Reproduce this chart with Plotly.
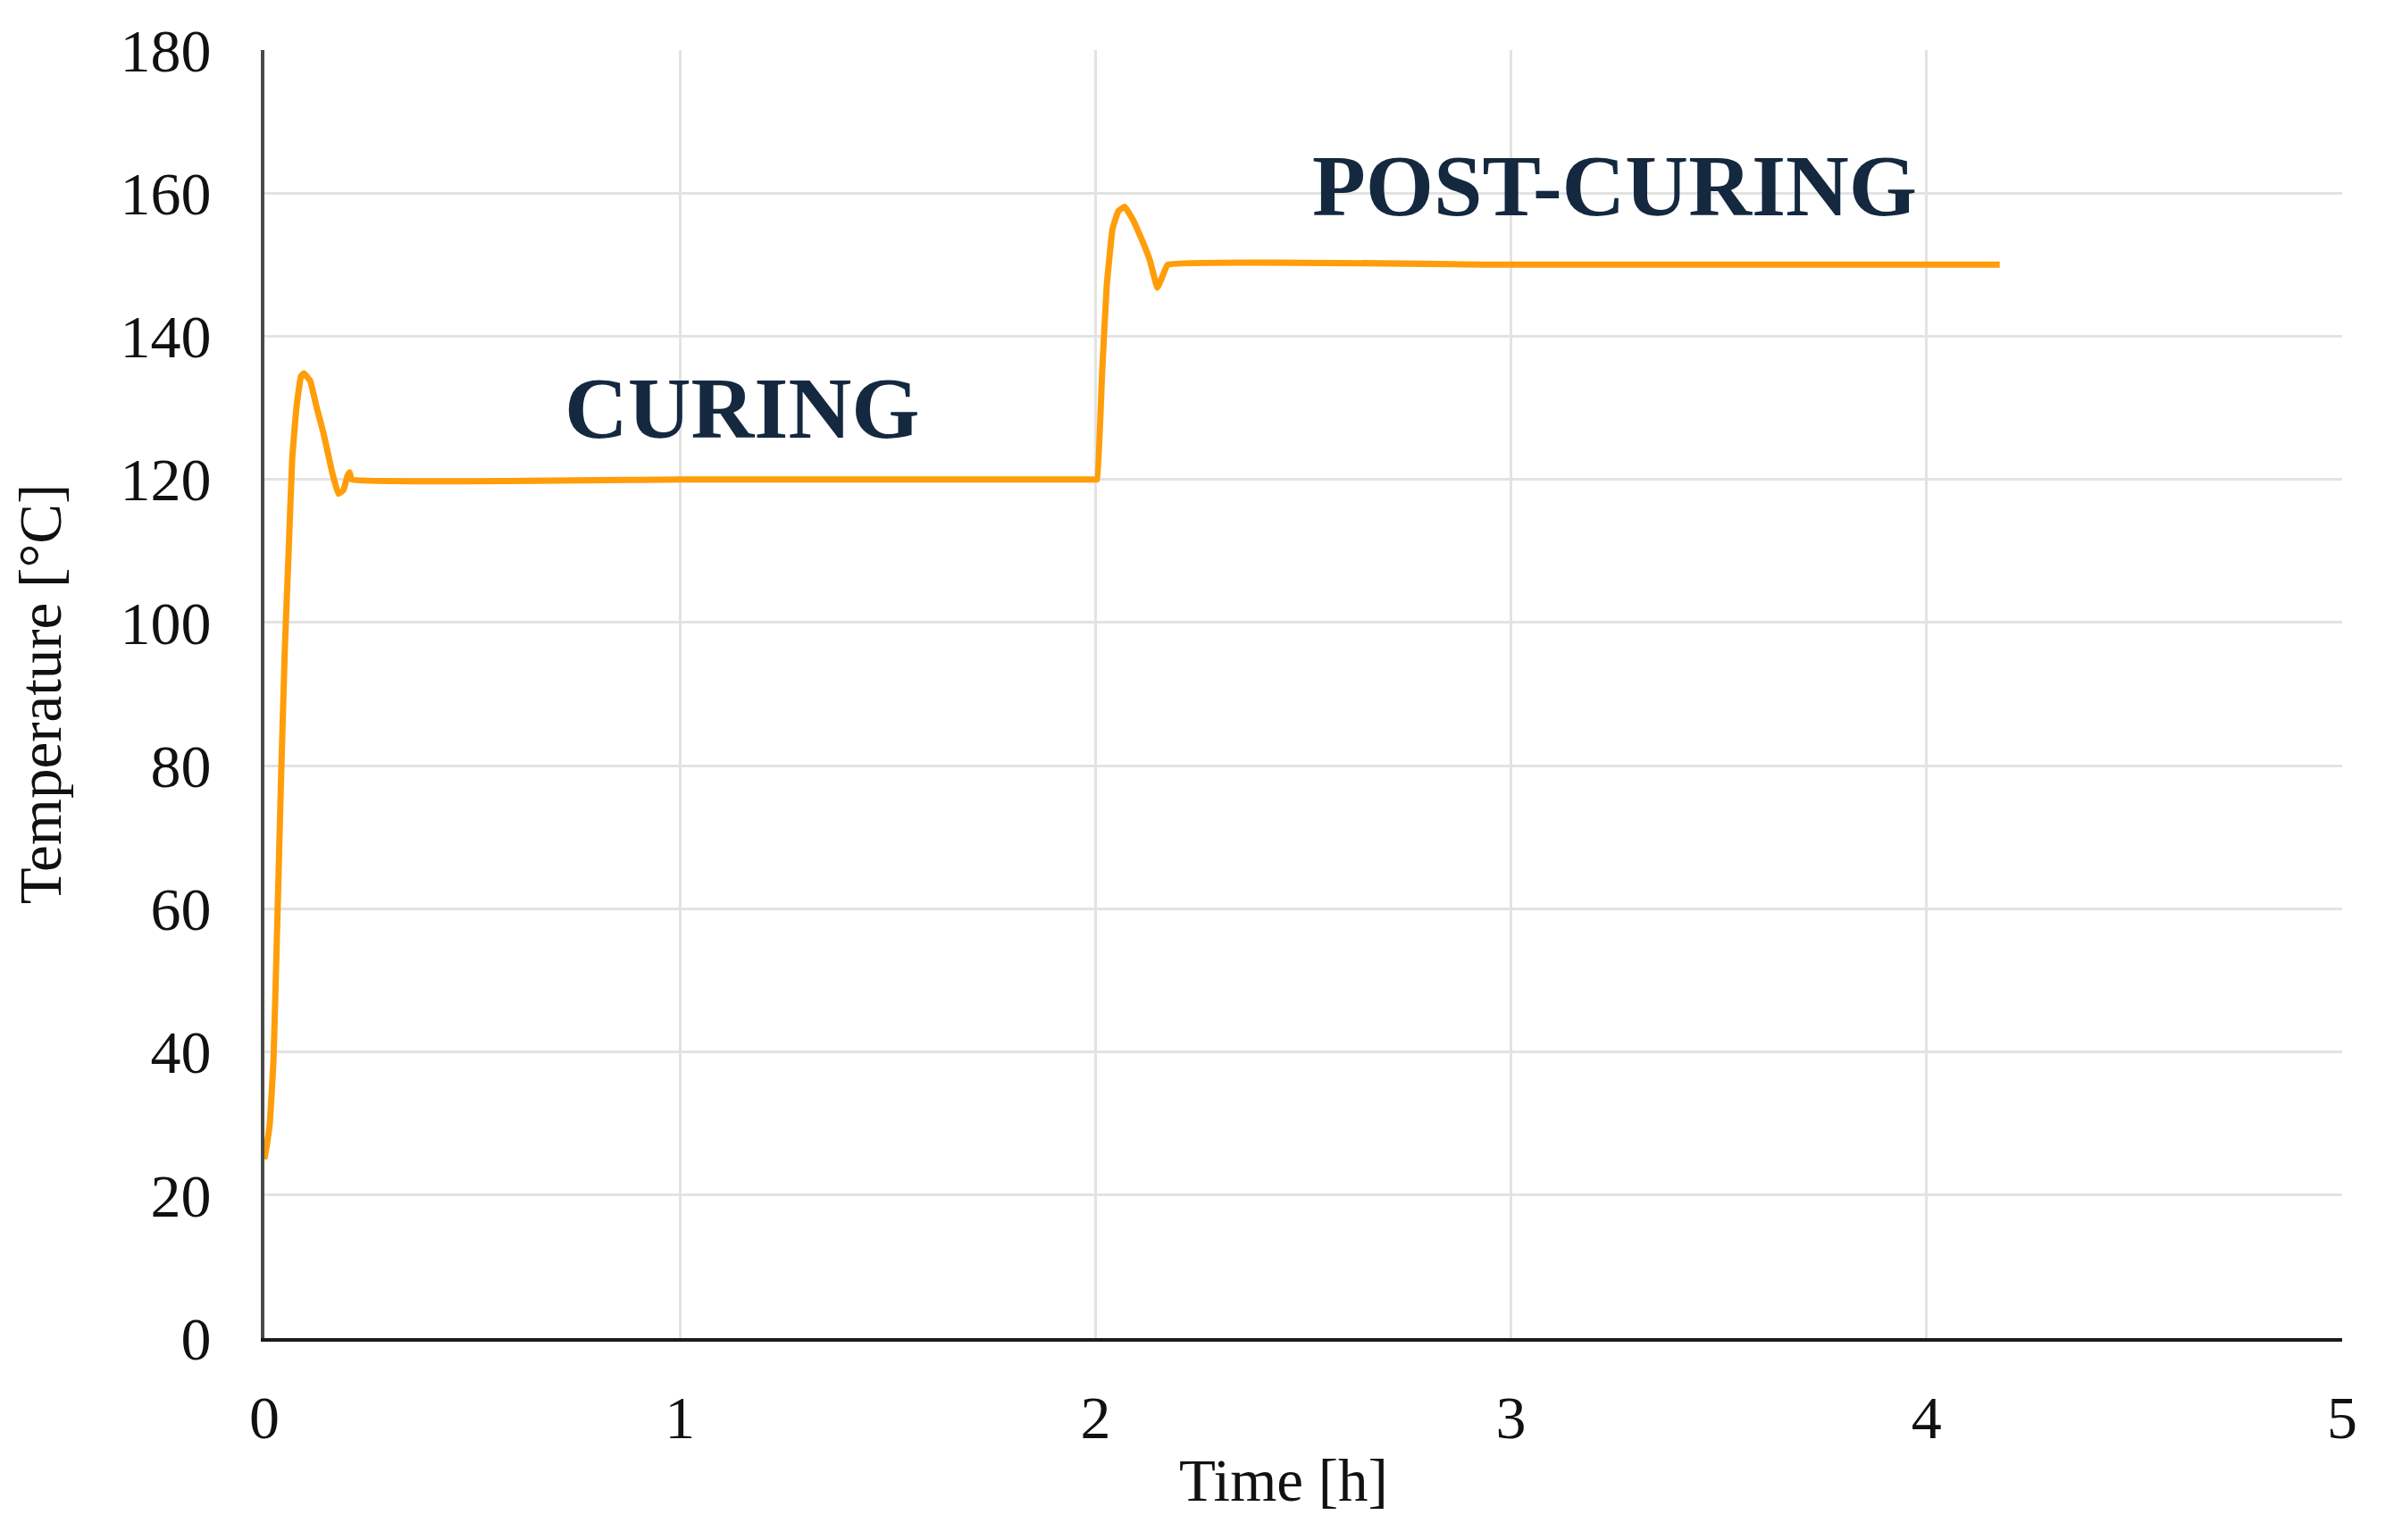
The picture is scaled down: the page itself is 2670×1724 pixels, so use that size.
import plotly.graph_objects as go

# Data
time_h = [0.0, 0.006, 0.013, 0.022, 0.031, 0.040, 0.049, 0.059, 0.067, 0.077, 0.088, 0.095,
          0.110, 0.126, 0.142, 0.163, 0.178, 0.190, 0.200, 0.205, 0.210, 1.0, 2.0,
          2.004, 2.016, 2.027, 2.041, 2.055, 2.070, 2.088, 2.110, 2.131, 2.149, 2.162, 2.174,
          3.0, 4.176]
temp_c = [25, 27, 30, 39, 58, 78, 96, 111, 123, 130, 134.4, 134.8,
          133.8, 130, 126.5, 121, 118, 118.5, 120.5, 121, 120, 120, 120,
          120, 135, 147, 155, 157.5, 158.1, 156.5, 153.7, 150.6, 146.8, 148.5, 150,
          150, 150]

x_ticks = [0, 1, 2, 3, 4, 5]
y_ticks = [0, 20, 40, 60, 80, 100, 120, 140, 160, 180]

labels = ["CURING", "POST-CURING"]
label_x = [1.15, 3.25]
label_y = [130, 161]

FONT = "Liberation Serif, Times New Roman, serif"

fig = go.Figure()
fig.add_trace(go.Scatter(
    x=time_h, y=temp_c, mode="lines",
    line=dict(color="#FF9D0A", width=7, shape="spline", smoothing=0.3),
    showlegend=False,
))

for t, xx, yy in zip(labels, label_x, label_y):
    fig.add_annotation(
        x=xx, y=yy, xref="x", yref="y", text="<b>" + t + "</b>", showarrow=False,
        font=dict(family=FONT, size=98, color="#14283F"),
    )

# x-axis title (slightly left of centre, as in the reference)
fig.add_annotation(
    x=0.4905, y=-0.110, xref="paper", yref="paper", text="Time [h]",
    showarrow=False, xanchor="center", yanchor="middle",
    font=dict(family=FONT, size=67, color="#111111"),
)

fig.update_layout(
    width=2662, height=1716,
    margin=dict(l=288, r=48, t=48, b=226),
    paper_bgcolor="white", plot_bgcolor="white",
    font=dict(family=FONT, size=67, color="#111111"),
)
fig.update_xaxes(
    range=[0, 5], tickvals=x_ticks, ticktext=[str(v) for v in x_ticks],
    showgrid=True, gridcolor="#E3E3E3", gridwidth=3,
    showline=True, linecolor="#1a1a1a", linewidth=4,
    zeroline=False, ticks="", ticklabelstandoff=26,
    tickfont=dict(family=FONT, size=68, color="#111111"),
)
fig.update_yaxes(
    range=[0, 180], tickvals=y_ticks, ticktext=[str(v) for v in y_ticks],
    showgrid=True, gridcolor="#E3E3E3", gridwidth=3,
    showline=True, linecolor="#4a4a4a", linewidth=4,
    zeroline=False, ticks="", ticklabelstandoff=42,
    title=dict(text="Temperature [°C]", font=dict(family=FONT, size=67), standoff=50),
    tickfont=dict(family=FONT, size=68, color="#111111"),
)

fig.write_html("out.html")
